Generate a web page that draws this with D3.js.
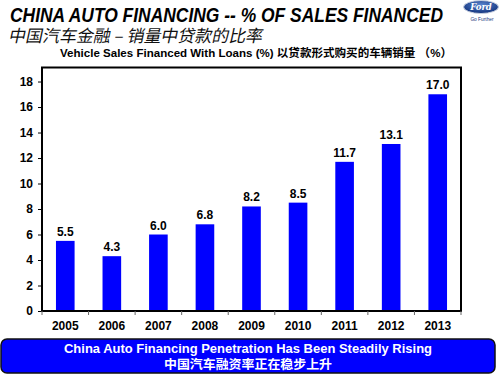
<!DOCTYPE html>
<html><head><meta charset="utf-8">
<script src="https://cdn.jsdelivr.net/npm/d3@7"></script>
<style>html,body{margin:0;padding:0;background:#fff;}svg{display:block;}</style>
</head><body>
<script>
const years = ["2005","2006","2007","2008","2009","2010","2011","2012","2013"];
const financedPct = [5.5, 4.3, 6.0, 6.8, 8.2, 8.5, 11.7, 13.1, 17.0];
const yTicks = [0, 2, 4, 6, 8, 10, 12, 14, 16, 18];
const titleEn = "CHINA AUTO FINANCING -- % OF SALES FINANCED";
const titleZh = "中国汽车金融 – 销量中贷款的比率";
const subtitle = "Vehicle Sales Financed With Loans (%) 以贷款形式购买的车辆销量 （%）";
const footer1 = "China Auto Financing Penetration Has Been Steadily Rising";
const footer2 = "中国汽车融资率正在稳步上升";

const W = 500, H = 375;
const svg = d3.select("body").append("svg").attr("width", W).attr("height", H);
const font = "Arial, 'Liberation Sans', 'Noto Sans CJK SC', sans-serif";

const plot = {left: 42, right: 461, top: 67.5, bottom: 311};
const x = d3.scaleBand().domain(years).range([plot.left, plot.right]).paddingInner(0.6).paddingOuter(0.3);
const y = d3.scaleLinear().domain([0, 19.1]).range([plot.bottom, plot.top]);

// titles
svg.append("text").attr("x", 10).attr("y", 22).attr("font-family", font)
  .attr("font-size", 20.5).attr("font-weight", "bold").attr("font-style", "italic")
  .attr("fill", "#000").attr("textLength", 433).attr("lengthAdjust", "spacingAndGlyphs").text(titleEn);
svg.append("g").attr("transform", "translate(17,0) skewX(-12)")
  .append("text").attr("x", 0).attr("y", 42).attr("font-family", "'Noto Sans CJK SC', sans-serif")
  .attr("font-size", 17).attr("fill", "#111")
  .attr("textLength", 254).attr("lengthAdjust", "spacingAndGlyphs").text(titleZh);
svg.append("text").attr("x", 256).attr("y", 57).attr("text-anchor", "middle").attr("font-family", font)
  .attr("font-size", 11.5).attr("font-weight", "bold").attr("fill", "#000")
  .attr("textLength", 392).attr("lengthAdjust", "spacingAndGlyphs").text(subtitle);

// Ford logo
const defs = svg.append("defs");
const g = defs.append("radialGradient").attr("id", "fordg").attr("cx", "50%").attr("cy", "35%").attr("r", "65%");
g.append("stop").attr("offset", "0%").attr("stop-color", "#5a86d0");
g.append("stop").attr("offset", "100%").attr("stop-color", "#10307a");
svg.append("ellipse").attr("cx", 481).attr("cy", 7).attr("rx", 17.5).attr("ry", 6.5)
  .attr("fill", "url(#fordg)").attr("stroke", "#c8d0e0").attr("stroke-width", 1);
svg.append("text").attr("x", 481).attr("y", 10).attr("text-anchor", "middle")
  .attr("font-family", "'DejaVu Serif', serif").attr("font-style", "italic").attr("font-weight", "bold")
  .attr("font-size", 8.5).attr("fill", "#fff").text("Ford");
svg.append("text").attr("x", 482).attr("y", 21).attr("text-anchor", "middle").attr("font-family", font)
  .attr("font-size", 4.8).attr("fill", "#1a3a80").text("Go Further");

// bars
svg.selectAll("rect.bar").data(financedPct).enter().append("rect").attr("class", "bar")
  .attr("x", (d, i) => x(years[i])).attr("width", x.bandwidth())
  .attr("y", d => y(d)).attr("height", d => y(0) - y(d)).attr("fill", "#0000FF");

svg.selectAll("text.val").data(financedPct).enter().append("text").attr("class", "val")
  .attr("x", (d, i) => x(years[i]) + x.bandwidth() / 2).attr("y", d => y(d) - 5)
  .attr("text-anchor", "middle").attr("font-family", font).attr("font-size", 12)
  .attr("font-weight", "bold").attr("fill", "#000").text(d => d.toFixed(1));

// frame
svg.append("rect").attr("x", plot.left).attr("y", plot.top)
  .attr("width", plot.right - plot.left).attr("height", plot.bottom - plot.top)
  .attr("fill", "none").attr("stroke", "#000").attr("stroke-width", 2);

// y axis
const yAxis = svg.append("g").attr("transform", `translate(${plot.left},0)`)
  .call(d3.axisLeft(y).tickValues(yTicks).tickSize(4).tickPadding(5));
yAxis.select(".domain").remove();
yAxis.selectAll("line").attr("stroke", "#000");
yAxis.selectAll("text").attr("font-family", font).attr("font-size", 12).attr("font-weight", "bold").attr("fill", "#000");

// x axis
const xAxis = svg.append("g").attr("transform", `translate(0,${plot.bottom})`)
  .call(d3.axisBottom(x).tickSize(0).tickPadding(10));
xAxis.select(".domain").remove();
xAxis.selectAll("text").attr("font-family", font).attr("font-size", 12).attr("font-weight", "bold").attr("fill", "#000");
// category boundary ticks
const bounds = d3.range(years.length + 1).map(i => plot.left + i * x.step());
svg.selectAll("line.xt").data(bounds).enter().append("line").attr("class", "xt")
  .attr("x1", d => d).attr("x2", d => d).attr("y1", plot.bottom).attr("y2", plot.bottom + 4)
  .attr("stroke", "#666").attr("stroke-width", 1);

// footer
svg.append("rect").attr("x", 1).attr("y", 339).attr("width", 494).attr("height", 34)
  .attr("rx", 6).attr("ry", 6).attr("fill", "#0000FF").attr("stroke", "#111").attr("stroke-width", 1.5);
svg.append("text").attr("x", 248).attr("y", 352.5).attr("text-anchor", "middle").attr("font-family", font)
  .attr("font-size", 13).attr("font-weight", "bold").attr("fill", "#fff")
  .attr("textLength", 368).attr("lengthAdjust", "spacingAndGlyphs").text(footer1);
svg.append("text").attr("x", 248).attr("y", 368.5).attr("text-anchor", "middle")
  .attr("font-family", "'Noto Sans CJK SC', sans-serif")
  .attr("font-size", 12.5).attr("font-weight", "bold").attr("fill", "#fff")
  .attr("textLength", 168).attr("lengthAdjust", "spacingAndGlyphs").text(footer2);
</script>
</body></html>
